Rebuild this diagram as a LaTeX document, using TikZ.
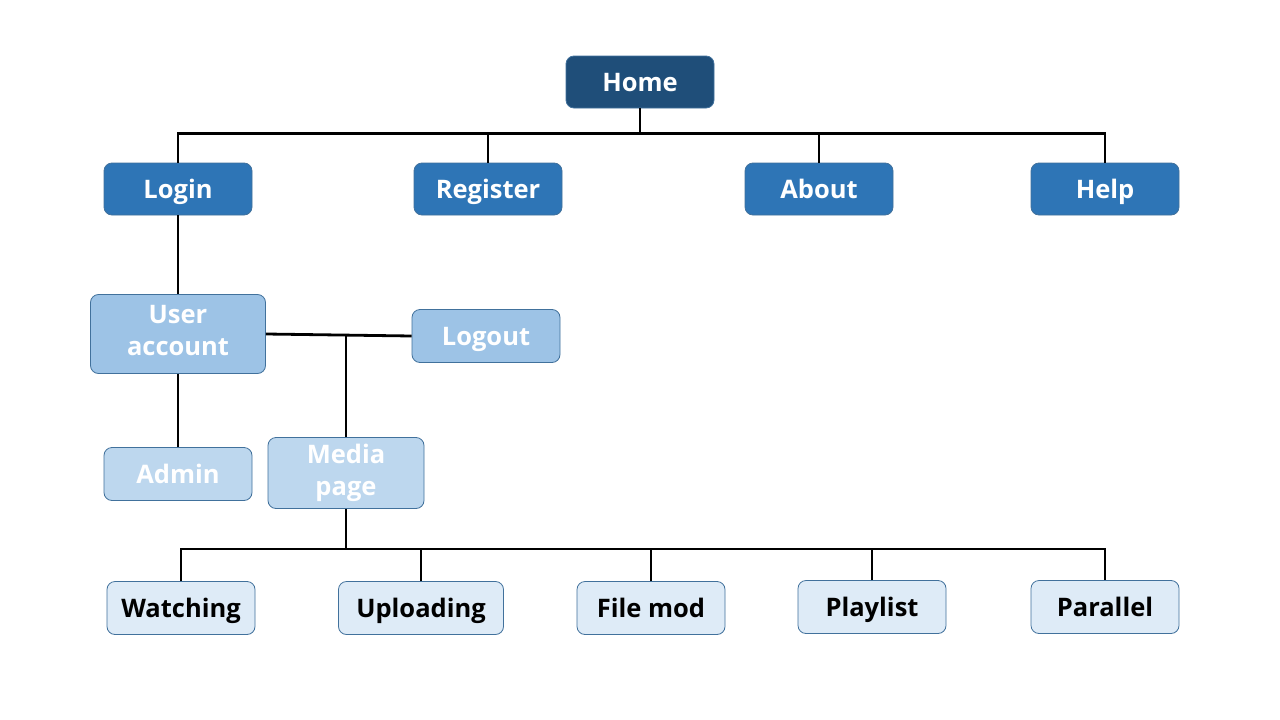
\documentclass[tikz,border=0pt]{standalone}
\usepackage{fontspec}
\setmainfont{Open Sans}
\usetikzlibrary{positioning,calc}
\definecolor{homeblue}{HTML}{1F4E79}
\definecolor{midblue}{HTML}{2E75B6}
\definecolor{lightblue}{HTML}{9DC3E6}
\definecolor{paleblue}{HTML}{BDD7EE}
\definecolor{mistblue}{HTML}{DEEBF7}
\definecolor{edgeblue}{HTML}{41719C}
\newcommand\pagestrut{\rule[-0.25em]{0pt}{1.24em}}
\newcommand\pagelow{\rule[-0.25em]{0pt}{0.25em}}
\newcommand\pagetall{\rule[-0.25em]{0pt}{1.55em}}
\tikzset{
  page/.style={draw=edgeblue,line width=0.8pt,rounded corners=8pt,
    minimum width=148pt,minimum height=52pt,align=center,inner sep=2pt,
    font=\fontsize{25.5}{32}\selectfont\bfseries,
    execute at begin node=\pagestrut,execute at end node=\pagelow},
  twoline/.style={execute at begin node=\pagetall},
  toppage/.style={page,fill=homeblue,text=white},
  mainpage/.style={page,fill=midblue,text=white},
  userpage/.style={page,fill=lightblue,text=white},
  subpage/.style={page,fill=paleblue,text=white},
  leafpage/.style={page,fill=mistblue,text=black},
  link/.style={line width=2.8pt,black}
}
\begin{document}
\begin{tikzpicture}[x=1pt,y=-1pt]
  \useasboundingbox[fill=white] (0,0) rectangle (1280,720);
  % top level
  \node[toppage] (home) at (640,82) {Home};
  \node[mainpage] (login) at (178,189) {Login};
  \node[mainpage] (register) at (488,189) {Register};
  \node[mainpage] (about) at (819,189) {About};
  \node[mainpage] (help) at (1105,189) {Help};
  % account branch
  \node[userpage,twoline,minimum width=175pt,minimum height=79pt] (user) at (178,334) {User\\account};
  \node[userpage,minimum height=53pt] (logout) at (486,336) {Logout};
  \node[subpage,minimum height=53pt] (admin) at (178,474) {Admin};
  \node[subpage,twoline,minimum width=156pt,minimum height=71pt] (media) at (346,473) {Media\\page};
  % media pages
  \node[leafpage,minimum height=53pt] (watching) at (181,608) {Watching};
  \node[leafpage,minimum width=165pt,minimum height=53pt] (uploading) at (421,608) {Uploading};
  \node[leafpage,minimum height=53pt] (filemod) at (651,608) {File mod};
  \node[leafpage,minimum height=53pt] (playlist) at (872,607) {Playlist};
  \node[leafpage,minimum height=53pt] (parallel) at (1105,607) {Parallel};
  % connectors
  \coordinate (topbus) at ($(home.south)+(0,25)$);
  \coordinate (mediabus) at ($(media.south)+(0,40)$);
  \draw[link] (home.south) -- (topbus);
  \draw[link] (login.north) |- (topbus) -| (help.north);
  \draw[link] (register.north) -- (register.north |- topbus);
  \draw[link] (about.north) -- (about.north |- topbus);
  \draw[link] (login.south) -- (user.north);
  \draw[link] (user.south) -- (admin.north);
  \draw[link] (user.east) -- (logout.west);
  \draw[link] (media.north) -- (media.north |- user.east);
  \draw[link] (media.south) -- (mediabus);
  \draw[link] (watching.north) |- (mediabus) -| (parallel.north);
  \foreach \leafname in {uploading,filemod,playlist}
    \draw[link] (\leafname.north) -- (\leafname.north |- mediabus);
\end{tikzpicture}
\end{document}
